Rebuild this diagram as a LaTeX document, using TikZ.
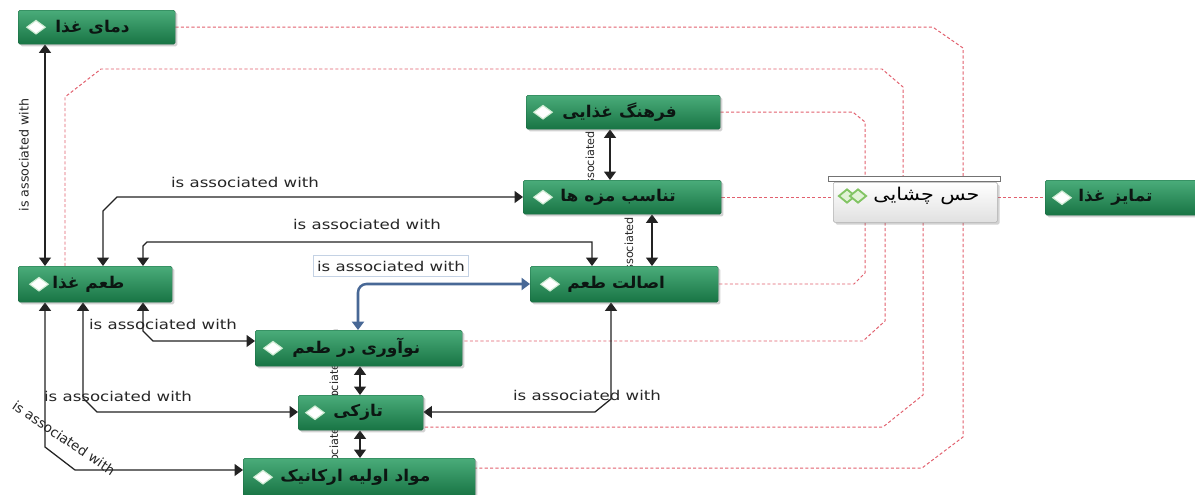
\documentclass[tikz,border=0pt]{standalone}
\usepackage{fontspec}
\setmainfont{DejaVu Sans}
\newfontfamily\fa[Script=Arabic]{DejaVu Sans}
\TeXXeTstate=1
\usetikzlibrary{arrows.meta,shapes.geometric,shadows,calc}
\definecolor{gtop}{RGB}{74,172,122}
\definecolor{gbot}{RGB}{24,116,68}
\definecolor{gedge}{RGB}{22,100,62}
\definecolor{relc}{RGB}{226,96,110}
\definecolor{selc}{RGB}{72,104,150}
\definecolor{selbox}{RGB}{196,210,228}
\definecolor{lnk}{RGB}{35,35,35}
\definecolor{hesg}{RGB}{130,196,100}
\definecolor{hesgf}{RGB}{225,242,215}
\definecolor{gemedge}{RGB}{205,235,210}
\definecolor{ptxt}{RGB}{12,22,18}
\pgfdeclarelayer{front}
\pgfsetlayers{main,front}
\begin{document}
\begin{tikzpicture}[x=0.025cm,y=-0.025cm,
  bw/.style={minimum width=#1*0.025cm},
  bh/.style={minimum height=#1*0.025cm},
  gbox/.style={rectangle, rounded corners=1.2pt, inner sep=0pt, anchor=north west,
    top color=gtop, bottom color=gbot, draw=gedge, line width=0.3pt,
    drop shadow={shadow xshift=1.6pt, shadow yshift=-1.6pt, opacity=0.35}},
  gem/.style={diamond, fill=white, draw=gemedge, line width=0.8pt, inner sep=0pt,
    minimum width=19*0.025cm, minimum height=14*0.025cm},
  hgem/.style={diamond, draw=hesg, fill=hesgf, line width=1.3pt, inner sep=0pt,
    minimum width=17*0.025cm, minimum height=14*0.025cm},
  ptext/.style={font=\fa\bfseries\fontsize{11.5}{13}\selectfont, text=ptxt, anchor=west, inner sep=0pt, xscale=1.05},
  lbl/.style={font=\fontsize{9.6}{11}\selectfont, text=black!85, inner sep=0pt},
  vlbl/.style={font=\fontsize{8}{9.5}\selectfont, text=black!85, inner sep=0pt, rotate=90},
  hlbl/.style={lbl, xscale=1.23},
  assoc/.style={draw=lnk, line width=0.9pt, arrows={Triangle[length=6pt,width=8.5pt]-Triangle[length=6pt,width=8.5pt]}},
  sellink/.style={draw=selc, line width=1.8pt, rounded corners=6pt, arrows={Triangle[length=6pt,width=8.5pt]-Triangle[length=6pt,width=8.5pt]}},
  rel/.style={draw=relc, line width=0.7pt, dash pattern=on 2.2pt off 1.6pt}
]
\fill[white] (0,0) rectangle (1195,494);
\useasboundingbox (0,0) rectangle (1195,494);

% ---------- nodes (drawn on the front layer) ----------
\begin{pgfonlayer}{front}
\node[gbox,bw=157,bh=34] (damaa) at (18,10) {};
\node[gbox,bw=194,bh=34] (farhang) at (526,95) {};
\node[gbox,bw=198,bh=34] (tanasob) at (523,180) {};
\node[gbox,bw=160,bh=35] (tamayoz) at (1045,180) {};
\node[gbox,bw=154,bh=36] (taam) at (18,266) {};
\node[gbox,bw=188,bh=36] (esalat) at (530,266) {};
\node[gbox,bw=207,bh=36] (noavari) at (255,330) {};
\node[gbox,bw=125,bh=35] (tazegi) at (298,395) {};
\node[gbox,bw=232,bh=38] (mavad) at (243,458) {};
\node[rectangle, rounded corners=1pt, anchor=north west, bw=164, bh=40, inner sep=0pt,
  top color=white, bottom color=black!12, draw=black!30, line width=0.4pt,
  drop shadow={shadow xshift=1.6pt, shadow yshift=-1.6pt, opacity=0.35}] (hes) at (833,182) {};
\node[rectangle, anchor=south west, bw=172, bh=5, inner sep=0pt, fill=white, draw=black!55, line width=0.5pt] (hesbar) at (828,182) {};
\node[gem] (damaa-i) at ($(damaa.west)+(18,0)$) {};
\node[ptext] (damaa-t) at ($(damaa.west)+(37,0)$) {\beginR دمای غذا\endR};
\node[gem] (farhang-i) at ($(farhang.west)+(17,0)$) {};
\node[ptext] (farhang-t) at ($(farhang.west)+(36,0)$) {\beginR فرهنگ غذایی\endR};
\node[gem] (tanasob-i) at ($(tanasob.west)+(20,0)$) {};
\node[ptext] (tanasob-t) at ($(tanasob.west)+(37,0)$) {\beginR تناسب مزه ها\endR};
\node[gem] (tamayoz-i) at ($(tamayoz.west)+(17,0)$) {};
\node[ptext] (tamayoz-t) at ($(tamayoz.west)+(33,0)$) {\beginR تمایز غذا\endR};
\node[gem] (taam-i) at ($(taam.west)+(21,0)$) {};
\node[ptext] (taam-t) at ($(taam.west)+(34,0)$) {\beginR طعم غذا\endR};
\node[gem] (esalat-i) at ($(esalat.west)+(20,0)$) {};
\node[ptext] (esalat-t) at ($(esalat.west)+(37,0)$) {\beginR اصالت طعم\endR};
\node[gem] (noavari-i) at ($(noavari.west)+(18,0)$) {};
\node[ptext] (noavari-t) at ($(noavari.west)+(37,0)$) {\beginR نوآوری در طعم\endR};
\node[gem] (tazegi-i) at ($(tazegi.west)+(17,0)$) {};
\node[ptext] (tazegi-t) at ($(tazegi.west)+(35,0)$) {\beginR تازکی\endR};
\node[gem] (mavad-i) at ($(mavad.west)+(20,0)$) {};
\node[ptext] (mavad-t) at ($(mavad.west)+(37,0)$) {\beginR مواد اولیه ارکانیک\endR};
\node[hgem] (hes-i1) at ($(hes.north west)+(14,14)$) {};
\node[hgem] (hes-i2) at ($(hes.north west)+(25,14)$) {};
\node[ptext, font=\fa\fontsize{12.5}{14}\selectfont, text=black, xscale=1.12] (hes-t) at ($(hes.north west)+(40,14)$) {\beginR حس چشایی\endR};
\end{pgfonlayer}

% ---------- helper coordinates ----------
\coordinate (vA) at (45,0);
\coordinate (b1) at (103,211); \coordinate (b2) at (117,197);
\coordinate (c1) at (143,246); \coordinate (c2) at (147,242); \coordinate (c3) at (592,242);
\coordinate (d1) at (358,284);
\coordinate (vE) at (610,0);
\coordinate (vF) at (652,0);
\coordinate (g1) at (611,399); \coordinate (g2) at (595,412);
\coordinate (h1) at (143,331); \coordinate (h2) at (153,341);
\coordinate (i1) at (83,398); \coordinate (i2) at (97,412);
\coordinate (j1) at (45,447); \coordinate (j2) at (75,470);
\coordinate (vK) at (360,0);
\coordinate (r1a) at (933,0); \coordinate (r1b) at (963,48);
\coordinate (r2a) at (65,97); \coordinate (r2b) at (101,69); \coordinate (r2c) at (882,69); \coordinate (r2d) at (903,87);
\coordinate (r3a) at (853,0); \coordinate (r3b) at (865,122);
\coordinate (r6a) at (865,273); \coordinate (r6b) at (854,284);
\coordinate (r7a) at (885,321); \coordinate (r7b) at (863,341);
\coordinate (r8a) at (923,395); \coordinate (r8b) at (883,427);
\coordinate (r9a) at (963,437); \coordinate (r9b) at (922,468);

% ---------- dotted relations to the sense node ----------
\draw[rel] (damaa.east) -- (damaa.east -| r1a) -- (r1b) -- (hesbar.north -| r1b);
\draw[rel] (taam.north -| r2a) -- (r2a) -- (r2b) -- (r2c) -- (r2d) -- (hesbar.north -| r2d);
\draw[rel] (farhang.east) -- (farhang.east -| r3a) -- (r3b) -- (hesbar.north -| r3b);
\draw[rel] (tanasob.east) -- (tanasob.east -| hes.west);
\draw[rel] (hes.east |- tamayoz.west) -- (tamayoz.west);
\draw[rel] (hes.south -| r6a) -- (r6a) -- (r6b) -- (esalat.east |- r6b);
\draw[rel] (hes.south -| r7a) -- (r7a) -- (r7b) -- (noavari.east |- r7b);
\draw[rel] (hes.south -| r8a) -- (r8a) -- (r8b) -- (tazegi.east |- r8b);
\draw[rel] (hes.south -| r9a) -- (r9a) -- (r9b) -- (mavad.east |- r9b);

% ---------- association links ----------
\draw[assoc] (damaa.south -| vA) -- (taam.north -| vA);
\node[vlbl, font=\fontsize{9}{10}\selectfont] (lA) at (24,155) {is associated with};

\draw[assoc] (taam.north -| b1) -- (b1) -- (b2) -- (tanasob.west |- b2);
\node[hlbl] (lB) at (245,182) {is associated with};

\draw[assoc] (taam.north -| c1) -- (c1) -- (c2) -- (c3) -- (esalat.north -| c3);
\node[hlbl] (lC) at (367,224) {is associated with};

\node[hlbl, draw=selbox, line width=0.8pt, fill=white, inner xsep=2pt, inner ysep=3.5pt] (lD) at (391,266) {is associated with};
\draw[sellink] (noavari.north -| d1) -- (d1) -- (esalat.west |- d1);

\draw[assoc] (farhang.south -| vE) -- (tanasob.north -| vE);
\node[vlbl] (lE) at (590,154) {is associated with};

\draw[assoc] (tanasob.south -| vF) -- (esalat.north -| vF);
\node[vlbl] (lF) at (629,240) {is associated with};

\draw[assoc] (esalat.south -| g1) -- (g1) -- (g2) -- (tazegi.east |- g2);
\node[hlbl] (lG) at (587,395) {is associated with};

\draw[assoc] (taam.south -| h1) -- (h1) -- (h2) -- (noavari.west |- h2);
\node[hlbl] (lH) at (163,324) {is associated with};

\draw[assoc] (taam.south -| i1) -- (i1) -- (i2) -- (tazegi.west |- i2);
\node[hlbl] (lI) at (118,396) {is associated with};

\draw[assoc] (taam.south -| j1) -- (j1) -- (j2) -- (mavad.west |- j2);
\node[lbl, rotate=-34] (lJ) at (64,438) {is associated with};

\draw[assoc] (noavari.south -| vK) -- (tazegi.north -| vK);
\node[vlbl] (lK) at (334,379) {is associated with};

\draw[assoc] (tazegi.south -| vK) -- (mavad.north -| vK);
\node[vlbl] (lL) at (334,443) {is associated with};
\end{tikzpicture}
\end{document}
